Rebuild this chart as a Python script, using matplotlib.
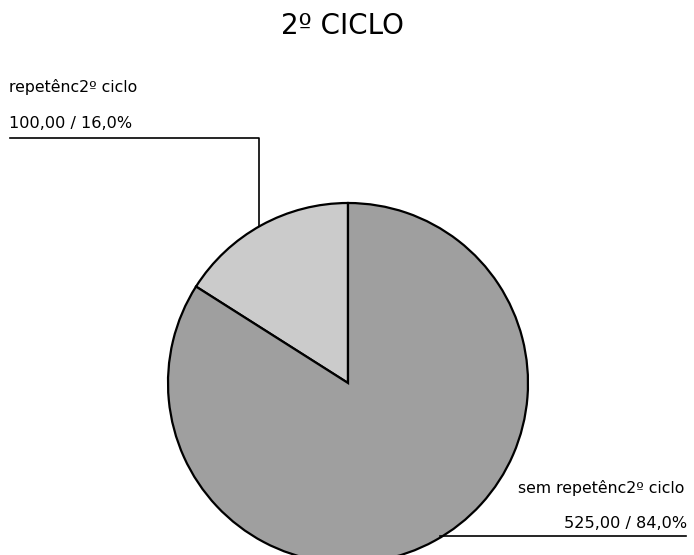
import matplotlib
matplotlib.use("Agg")
import matplotlib.pyplot as plt

title = "2º CICLO"
categories = ["repetênc2º ciclo", "sem repetênc2º ciclo"]
values = [100.00, 525.00]
percents = [16.0, 84.0]
colors = ["#cbcbcb", "#9f9f9f"]

plt.rcParams['font.family'] = ['DejaVu Sans']

W, H = 694, 555
fig = plt.figure(figsize=(W / 100, H / 100), dpi=100)
ax = fig.add_axes([0, 0, 1, 1])

cx, cy, r = 348, H - 383, 180
ax.pie(values, colors=colors, startangle=90, counterclock=True,
       center=(cx, cy), radius=r,
       wedgeprops=dict(edgecolor="black", linewidth=1.6))
ax.set_xlim(0, W)
ax.set_ylim(0, H)
ax.set_aspect('equal')
ax.axis('off')

def fmt(v, p):
    return f"{v:.2f}".replace('.', ',') + " / " + f"{p:.1f}".replace('.', ',') + "%"

fs = 11.3
# left label
ax.text(9, H - 92, categories[0], fontsize=fs, ha='left', va='baseline')
ax.text(9, H - 128, fmt(values[0], percents[0]), fontsize=fs + 0.3, ha='left', va='baseline')
ax.plot([10, 259, 259], [H - 138, H - 138, H - 226], color='black', lw=1.2)

# right label
ax.text(684, H - 493, categories[1], fontsize=fs, ha='right', va='baseline')
ax.text(687, H - 528, fmt(values[1], percents[1]), fontsize=fs + 0.3, ha='right', va='baseline')
ax.plot([440, 686], [H - 536, H - 536], color='black', lw=1.2)

ax.text(342, H - 34, title, fontsize=20, ha='center', va='baseline')

fig.savefig("out.png", dpi=100)
